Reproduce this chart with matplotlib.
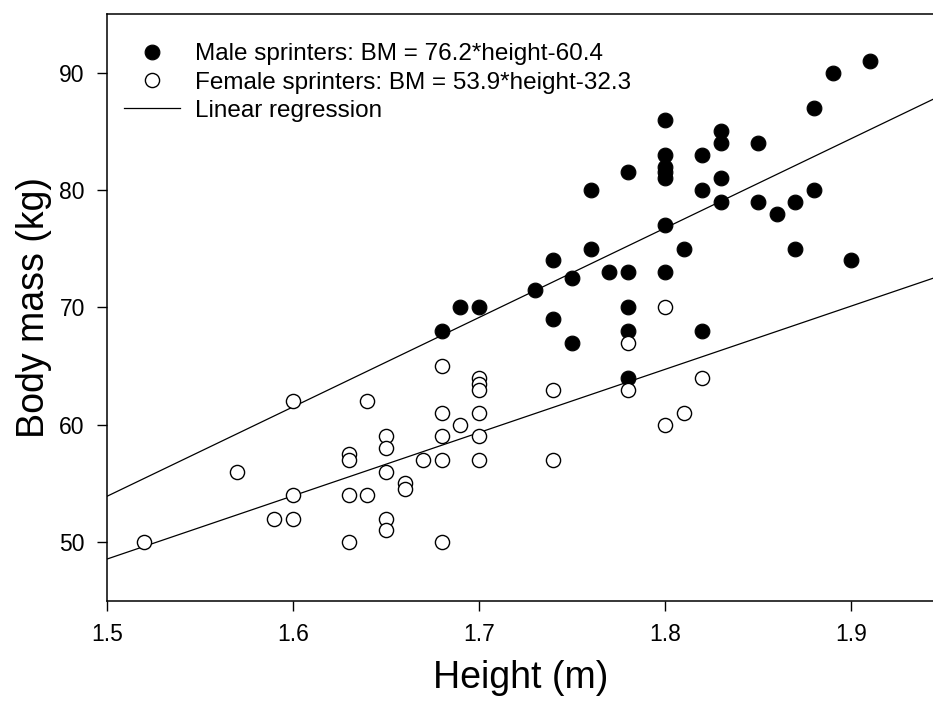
import matplotlib
matplotlib.use("Agg")
import matplotlib.pyplot as plt
import numpy as np

plt.rcParams["font.family"] = ["Liberation Sans", "DejaVu Sans"]

# Male sprinters: height (m), body mass (kg)
MALE_HEIGHT = [1.68, 1.69, 1.70, 1.73, 1.74, 1.74, 1.75, 1.75, 1.76, 1.76,
               1.77, 1.78, 1.78, 1.78, 1.78, 1.78, 1.80, 1.80, 1.80, 1.80,
               1.80, 1.80, 1.80, 1.81, 1.82, 1.82, 1.82, 1.83, 1.83, 1.83,
               1.83, 1.85, 1.85, 1.86, 1.87, 1.87, 1.88, 1.88, 1.89, 1.90,
               1.91]
MALE_MASS = [68, 70, 70, 71.5, 74, 69, 72.5, 67, 80, 75,
             73, 81.5, 73, 70, 68, 64, 86, 83, 82, 81.5,
             81, 77, 73, 75, 83, 80, 68, 85, 84, 81,
             79, 84, 79, 78, 79, 75, 87, 80, 90, 74,
             91]

# Female sprinters
FEMALE_HEIGHT = [1.52, 1.57, 1.59, 1.60, 1.60, 1.60, 1.63, 1.63, 1.63, 1.63,
                 1.64, 1.64, 1.65, 1.65, 1.65, 1.65, 1.65, 1.66, 1.66, 1.67,
                 1.68, 1.68, 1.68, 1.68, 1.68, 1.69, 1.70, 1.70, 1.70, 1.70,
                 1.70, 1.70, 1.74, 1.74, 1.78, 1.78, 1.80, 1.80, 1.81, 1.82]
FEMALE_MASS = [50, 56, 52, 62, 54, 52, 57.5, 57, 54, 50,
               62, 54, 59, 58, 56, 52, 51, 55, 54.5, 57,
               65, 61, 59, 57, 50, 60, 64, 63.5, 63, 61,
               59, 57, 63, 57, 67, 63, 70, 60, 61, 64]

# Regression coefficients (from the legend)
MALE_SLOPE, MALE_INTERCEPT = 76.2, -60.4
FEMALE_SLOPE, FEMALE_INTERCEPT = 53.9, -32.3

X_TICKS = [1.5, 1.6, 1.7, 1.8, 1.9]
Y_TICKS = [50, 60, 70, 80, 90]
X_LIMITS = (1.5, 1.945)
Y_LIMITS = (45, 95)


def main():
    figure = plt.figure(figsize=(9.33, 7.02), dpi=100)
    axis = figure.add_axes([0.1147, 0.1443, 0.8853 + 0.002, 0.8357])

    line_x = np.array(X_LIMITS)
    axis.plot(line_x, MALE_SLOPE * line_x + MALE_INTERCEPT,
              color="black", linewidth=0.9, zorder=2)
    axis.plot(line_x, FEMALE_SLOPE * line_x + FEMALE_INTERCEPT,
              color="black", linewidth=0.9, zorder=2,
              label="Linear regression")

    axis.plot(MALE_HEIGHT, MALE_MASS, linestyle="none", marker="o",
              markersize=10.6, markerfacecolor="black",
              markeredgecolor="black", markeredgewidth=0.8, zorder=3,
              label="Male sprinters: BM = 76.2*height-60.4")
    axis.plot(FEMALE_HEIGHT, FEMALE_MASS, linestyle="none", marker="o",
              markersize=10.2, markerfacecolor="white",
              markeredgecolor="black", markeredgewidth=1.0, zorder=3,
              label="Female sprinters: BM = 53.9*height-32.3")

    axis.set_xlim(*X_LIMITS)
    axis.set_ylim(*Y_LIMITS)
    axis.set_xticks(X_TICKS)
    axis.set_yticks(Y_TICKS)
    axis.set_xticklabels([f"{t:.1f}" for t in X_TICKS])
    axis.tick_params(direction="out", length=7, width=1.0,
                     labelsize=16.5, pad=9)
    axis.spines["right"].set_visible(False)
    for side in ("left", "bottom", "top"):
        axis.spines[side].set_linewidth(1.1)

    axis.set_xlabel("Height (m)", fontsize=27, labelpad=10)
    axis.set_ylabel("Body mass (kg)", fontsize=27, labelpad=5)

    handles, labels = axis.get_legend_handles_labels()
    order = [1, 2, 0]
    axis.legend([handles[i] for i in order], [labels[i] for i in order],
                loc="upper left", bbox_to_anchor=(0.003, 0.975),
                frameon=False, fontsize=17.5, handlelength=2.3,
                handletextpad=0.6, labelspacing=0.26, borderaxespad=0.2)

    figure.savefig("out.png", dpi=100)
    plt.close(figure)


if __name__ == "__main__":
    main()
